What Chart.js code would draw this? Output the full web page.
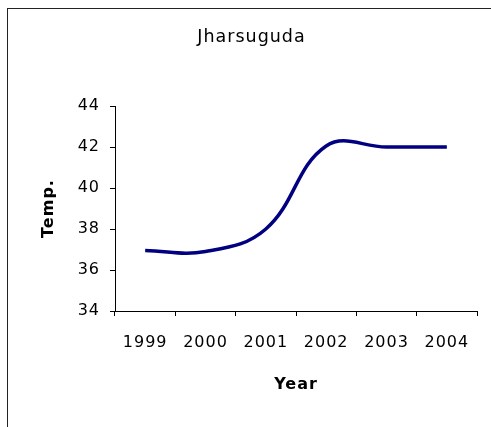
<!DOCTYPE html>
<html>
<head>
<meta charset="utf-8">
<script src="https://cdn.jsdelivr.net/npm/chart.js@4"></script>
<style>
html,body{margin:0;padding:0;background:#fff;overflow:hidden;}
#wrap{position:relative;width:491px;height:427px;}
</style>
</head>
<body>
<div id="wrap"><canvas id="c" width="491" height="427"></canvas></div>
<script>
const years = ["1999", "2000", "2001", "2002", "2003", "2004"];
const temps = [36.95, 36.9, 38.0, 42.05, 42.0, 42.0];
const yTicks = [34, 36, 38, 40, 42, 44];

const FONT = "'DejaVu Sans', sans-serif";
const spacing = {
  id: 'spacing',
  beforeUpdate(chart){ chart.ctx.letterSpacing = '1px'; },
  beforeDraw(chart){ chart.ctx.letterSpacing = '1px'; }
};
const frame = {
  id: 'frame',
  afterDraw(chart){
    const ctx = chart.ctx;
    ctx.save();
    ctx.strokeStyle = '#222';
    ctx.lineWidth = 1;
    ctx.strokeRect(7.5, 8.5, 1000, 1000);
    ctx.restore();
  }
};

new Chart(document.getElementById('c'), {
  type: 'line',
  data: {
    labels: years,
    datasets: [{
      data: temps,
      borderColor: '#000080',
      borderWidth: 3.5,
      pointRadius: 0,
      tension: 0.4,
      fill: false
    }]
  },
  options: {
    responsive: false,
    animation: false,
    devicePixelRatio: 1,
    layout: { padding: { left: 26, right: 14, top: 0, bottom: 0 } },
    plugins: {
      legend: { display: false },
      tooltip: { enabled: false },
      title: {
        display: true,
        text: 'Jharsuguda',
        color: '#000',
        font: { family: FONT, size: 17.5, weight: 'normal' },
        padding: { top: 27, bottom: 58 }
      }
    },
    scales: {
      x: {
        type: 'category',
        offset: true,
        grid: { display: true, offset: true, drawOnChartArea: false, drawTicks: true, tickLength: 5, color: '#000' },
        border: { display: true, color: '#000', width: 1 },
        ticks: { color: '#000', font: { family: FONT, size: 16 }, padding: 17, maxRotation: 0, autoSkip: false },
        title: { display: true, text: 'Year', color: '#000', font: { family: FONT, size: 16, weight: 'bold' }, padding: { top: 0, bottom: 33 } },
        afterFit(s){ s.height = 116; }
      },
      y: {
        min: 34, max: 44,
        afterBuildTicks(s){ s.ticks = yTicks.map(v => ({ value: v })); },
        grid: { display: true, drawOnChartArea: false, drawTicks: true, tickLength: 5, color: '#000' },
        border: { display: true, color: '#000', width: 1 },
        ticks: { color: '#000', font: { family: FONT, size: 16 }, padding: 10 },
        title: { display: true, text: 'Temp.', color: '#000', font: { family: FONT, size: 16, weight: 'bold' }, padding: { top: 13, bottom: 0 } },
        afterFit(s){ s.width = 89; }
      }
    }
  },
  plugins: [spacing, frame]
});
</script>
</body>
</html>
